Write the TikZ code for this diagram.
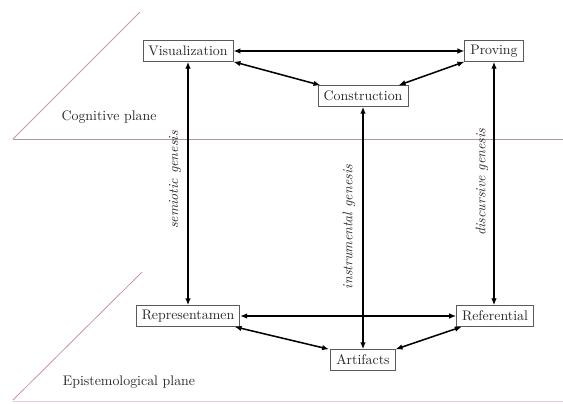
\documentclass[tikz,border=0pt]{standalone}
\usetikzlibrary{arrows.meta}
\definecolor{planecol}{RGB}{205,150,165}
\definecolor{hlinecol}{RGB}{175,150,165}
\definecolor{boxcol}{RGB}{90,90,90}
\definecolor{txtcol}{RGB}{40,40,40}
\begin{document}
\begin{tikzpicture}[x=0.72pt,y=-0.72pt,
  box/.style={draw=boxcol,line width=0.5pt,inner xsep=4pt,inner ysep=2pt,minimum height=15pt,text=txtcol,fill=white},
  link/.style={line width=1.1pt,{Latex[length=5pt,width=4pt]}-{Latex[length=5pt,width=4pt]}},
  plane/.style={planecol,line width=0.6pt},
  lab/.style={font=\itshape,text=txtcol,rotate=90},
  planelab/.style={text=txtcol}]
\useasboundingbox (0,0) rectangle (563,403);
% planes
\draw[plane] (13,139) -- (140,12);
\draw[hlinecol,line width=0.6pt] (13,139) -- (563,139);
\draw[plane] (13,400) -- (142,272);
\draw[planecol!50,line width=0.6pt] (13,401) -- (563,401);
\node[planelab] (cog) at (109,117) {Cognitive plane};
\node[planelab] (epi) at (129,382) {Epistemological plane};
% nodes
\node[box] (vis) at (188,51) {Visualization};
\node[box] (pro) at (494,51) {Proving};
\node[box] (con) at (363,96) {Construction};
\node[box] (rep) at (188,316) {Representamen};
\node[box] (ref) at (495,316) {Referential};
\node[box] (art) at (363,360) {Artifacts};
% links
\draw[link] (vis.east) -- (vis.east -| pro.west);
\draw[link] (vis.south east) -- ([xshift=2pt]con.north west);
\draw[link] ([xshift=-7pt]con.north east) -- (pro.south west);
\draw[link] (vis.south) -- (vis.south |- rep.north);
\draw[link] (con.south) -- (con.south |- art.north);
\draw[link] (pro.south) -- (pro.south |- ref.north);
\draw[link] (rep.east) -- (rep.east -| ref.west);
\draw[link] ([xshift=-4pt]rep.south east) -- ([xshift=-1pt]art.north west);
\draw[link] (art.north east) -- ([xshift=4pt]ref.south west);
% labels
\node[lab] (sg) at (175,180) {semiotic genesis};
\node[lab] (ig) at (349,227) {instrumental genesis};
\node[lab] (dg) at (482,182) {discursive genesis};
\end{tikzpicture}
\end{document}
